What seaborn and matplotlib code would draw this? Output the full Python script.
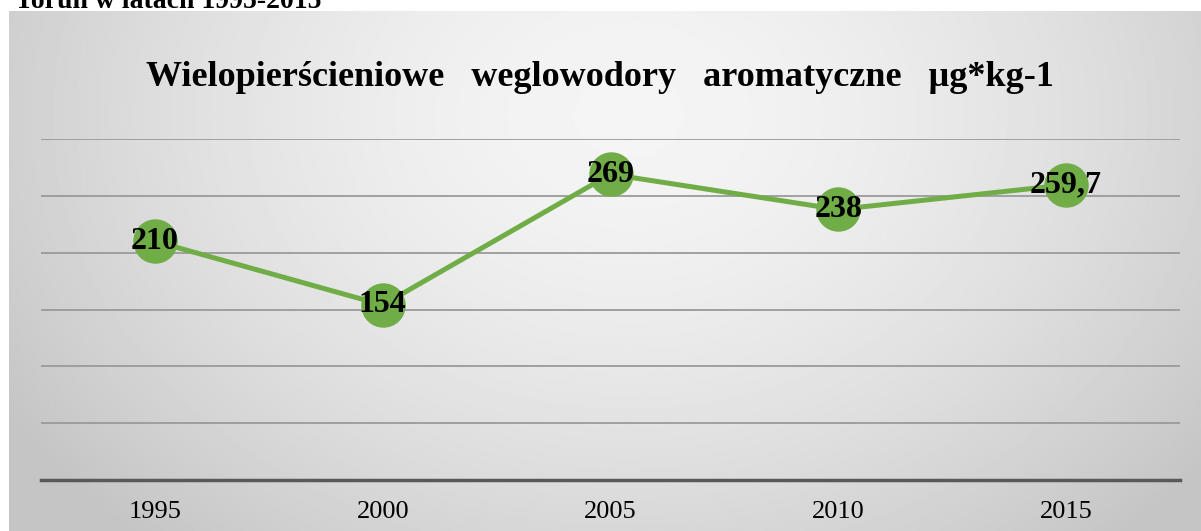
import numpy as np
import pandas as pd
import matplotlib
matplotlib.use("Agg")
import matplotlib.pyplot as plt
import seaborn as sns

years = ["1995", "2000", "2005", "2010", "2015"]
values = [210, 154, 269, 238, 259.7]
labels = ["210", "154", "269", "238", "259,7"]
title = "Wielopierścieniowe   weglowodory   aromatyczne   µg*kg-1"

df = pd.DataFrame({"rok": years, "wartosc": values})

sns.set_theme(style="white")
plt.rcParams["font.family"] = ["Liberation Serif", "DejaVu Serif"]

W, H = 1201, 531
fig = plt.figure(figsize=(W / 100, H / 100), dpi=100)
fig.patch.set_facecolor("white")

# gradient background of the chart area
bg = fig.add_axes([9 / W, 0, 1 - 9 / W, (H - 11) / H])
bw, bh = 600, 260
xx, yy = np.meshgrid(np.linspace(0, 1, bw), np.linspace(0, 1, bh))
r = np.sqrt(((xx - 0.52) / 0.62) ** 2 + ((yy - 0.2) / 1.1) ** 2)
r = np.clip(r, 0, 1)
shade = 0.96 - (0.96 - 0.77) * r ** 1.6
bg.imshow(shade, cmap="gray", vmin=0, vmax=1, aspect="auto", extent=[0, 1, 1, 0])
bg.axis("off")

# caption above the chart, cut by the top edge as in the source
fig.text(15 / W, 1 - 8 / H, "Toruń w latach 1995-2015", fontsize=20,
         fontweight="bold", ha="left", va="baseline", color="black")

ax = fig.add_axes([41 / W, 1 - 480 / H, (1180 - 41) / W, (480 - 139) / H])
ax.patch.set_alpha(0)
sns.lineplot(data=df, x="rok", y="wartosc", ax=ax, color="#70ad47",
             linewidth=3.6, marker="o", markersize=32, markeredgewidth=0,
             sort=False)
ax.set_ylim(0, 300)
ax.set_xlim(-0.5, 4.5)
ax.set_yticks(np.arange(0, 301, 50))
ax.yaxis.grid(True, color="#9a9a9a", linewidth=1.3)
ax.set_axisbelow(True)
ax.tick_params(axis="y", left=False, labelleft=False)
ax.tick_params(axis="x", bottom=False, labelsize=19, pad=9, colors="black")
for s in ["top", "right", "left"]:
    ax.spines[s].set_visible(False)
ax.spines["bottom"].set_color("#595959")
ax.spines["bottom"].set_linewidth(2.5)
ax.set_xlabel("")
ax.set_ylabel("")

for i, (v, t) in enumerate(zip(values, labels)):
    ax.text(i, v, t, ha="center", va="center", fontsize=23,
            fontweight="bold", color="black", zorder=5)

fig.text(600 / W, 1 - 77 / H, title, ha="center", va="center",
         fontsize=26, fontweight="bold", color="black")

fig.savefig("out.png", dpi=100)
